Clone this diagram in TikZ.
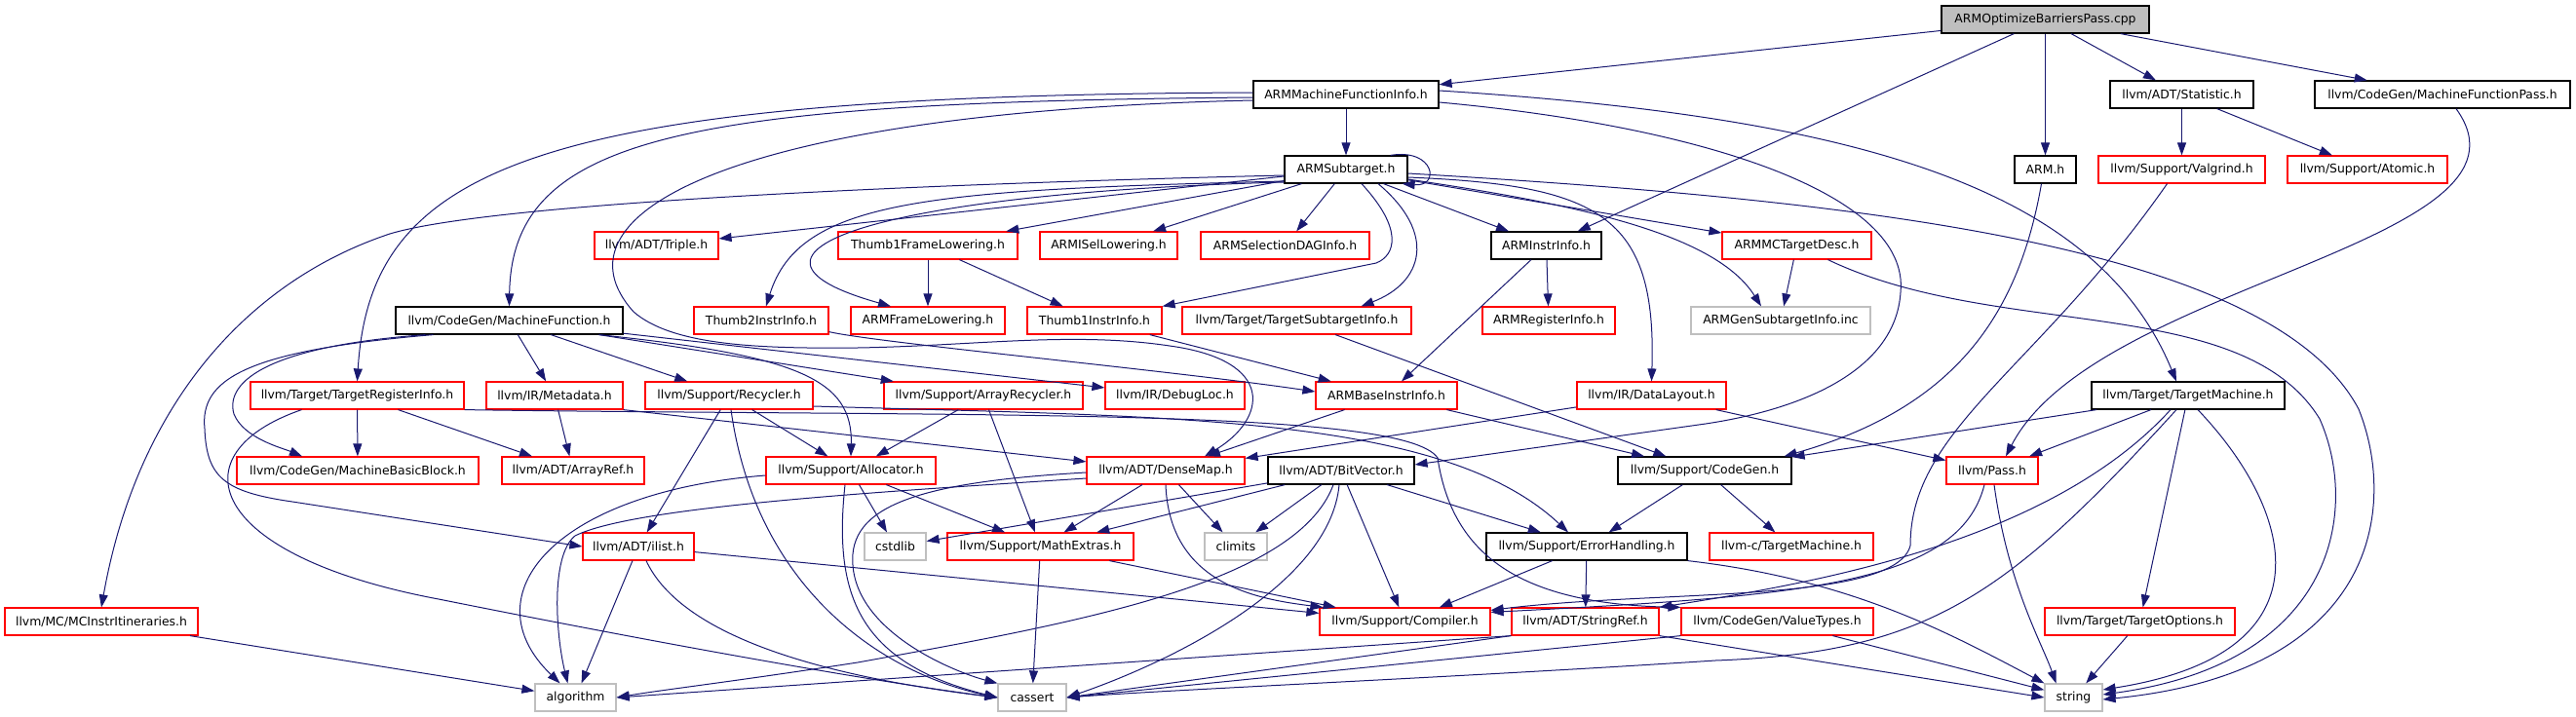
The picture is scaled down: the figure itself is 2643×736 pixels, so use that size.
\documentclass[tikz,border=0pt]{standalone}
\usepackage{fontspec}
\setmainfont{DejaVu Sans}
\usetikzlibrary{arrows.meta,calc}
\definecolor{edgeblue}{HTML}{191970}
\definecolor{lgrey}{HTML}{BFBFBF}
\begin{document}
\begin{tikzpicture}[x=1pt,y=-1pt,
  nb/.style={draw=black, line width=1.2pt, minimum height=28pt, inner sep=0pt, font=\fontsize{12.4}{14}\selectfont},
  rb/.style={nb, draw=red},
  gb/.style={nb, draw=lgrey},
  rootb/.style={nb, fill=lgrey},
  lnk/.style={draw=edgeblue, line width=1pt, -{Triangle[length=13pt,width=9pt]}}]
\useasboundingbox (0,0) rectangle (2643,736);
% row A
\node[rootb, minimum width=213pt] (root) at (2098.5,20) {ARMOptimizeBarriersPass.cpp};
% row B
\node[nb, minimum width=190pt] (mfi) at (1381,97) {ARMMachineFunctionInfo.h};
\node[nb, minimum width=147pt] (stat) at (2238.5,97) {llvm/ADT/Statistic.h};
\node[nb, minimum width=262pt] (mfp) at (2506,97) {llvm/CodeGen/MachineFunctionPass.h};
% row C
\node[nb, minimum width=126pt] (sub) at (1381,174) {ARMSubtarget.h};
\node[nb, minimum width=63pt] (armh) at (2098.5,174) {ARM.h};
\node[rb, minimum width=171pt] (valg) at (2238.5,174) {llvm/Support/Valgrind.h};
\node[rb, minimum width=164pt] (atom) at (2429,174) {llvm/Support/Atomic.h};
% row D
\node[rb, minimum width=127pt] (triple) at (673.5,252) {llvm/ADT/Triple.h};
\node[rb, minimum width=184pt] (t1fl) at (952,252) {Thumb1FrameLowering.h};
\node[rb, minimum width=141pt] (isel) at (1137.5,252) {ARMISelLowering.h};
\node[rb, minimum width=173pt] (dag) at (1318.5,252) {ARMSelectionDAGInfo.h};
\node[nb, minimum width=113pt] (ii) at (1586.5,252) {ARMInstrInfo.h};
\node[rb, minimum width=153pt] (mcd) at (1843.5,252) {ARMMCTargetDesc.h};
% row E
\node[nb, minimum width=233pt] (mf) at (522.5,329) {llvm/CodeGen/MachineFunction.h};
\node[rb, minimum width=138pt] (t2ii) at (781,329) {Thumb2InstrInfo.h};
\node[rb, minimum width=158pt] (fl) at (952,329) {ARMFrameLowering.h};
\node[rb, minimum width=138pt] (t1ii) at (1123,329) {Thumb1InstrInfo.h};
\node[rb, minimum width=235pt] (tsi) at (1330.5,329) {llvm/Target/TargetSubtargetInfo.h};
\node[rb, minimum width=136pt] (ri) at (1589,329) {ARMRegisterInfo.h};
\node[gb, minimum width=184pt] (gsi) at (1827,329) {ARMGenSubtargetInfo.inc};
% row F
\node[rb, minimum width=219pt] (tri) at (366.5,406) {llvm/Target/TargetRegisterInfo.h};
\node[rb, minimum width=140pt] (meta) at (569,406) {llvm/IR/Metadata.h};
\node[rb, minimum width=172pt] (recy) at (748,406) {llvm/Support/Recycler.h};
\node[rb, minimum width=204pt] (arec) at (1009,406) {llvm/Support/ArrayRecycler.h};
\node[rb, minimum width=143pt] (dloc) at (1205.5,406) {llvm/IR/DebugLoc.h};
\node[rb, minimum width=145pt] (bii) at (1422.5,406) {ARMBaseInstrInfo.h};
\node[rb, minimum width=153pt] (dl) at (1694.5,406) {llvm/IR/DataLayout.h};
\node[nb, minimum width=198pt] (tm) at (2245,406) {llvm/Target/TargetMachine.h};
% row G
\node[rb, minimum width=248pt] (mbb) at (367,483) {llvm/CodeGen/MachineBasicBlock.h};
\node[rb, minimum width=146pt] (aref) at (588,483) {llvm/ADT/ArrayRef.h};
\node[rb, minimum width=174pt] (alloc) at (873,483) {llvm/Support/Allocator.h};
\node[rb, minimum width=162pt] (dmap) at (1196,483) {llvm/ADT/DenseMap.h};
\node[nb, minimum width=150pt] (bv) at (1376,483) {llvm/ADT/BitVector.h};
\node[nb, minimum width=178pt] (cg) at (1749,483) {llvm/Support/CodeGen.h};
\node[rb, minimum width=94pt] (pass) at (2044,483) {llvm/Pass.h};
% row H
\node[rb, minimum width=114pt] (ilist) at (655,561) {llvm/ADT/ilist.h};
\node[gb, minimum width=63pt] (cstdlib) at (918.5,561) {cstdlib};
\node[rb, minimum width=191pt] (mex) at (1067.5,561) {llvm/Support/MathExtras.h};
\node[gb, minimum width=64pt] (climits) at (1268,561) {climits};
\node[nb, minimum width=206pt] (eh) at (1628,561) {llvm/Support/ErrorHandling.h};
\node[rb, minimum width=168pt] (ctm) at (1838,561) {llvm-c/TargetMachine.h};
% row I
\node[rb, minimum width=198pt] (mcii) at (104,638) {llvm/MC/MCInstrItineraries.h};
\node[rb, minimum width=175pt] (comp) at (1441.5,638) {llvm/Support/Compiler.h};
\node[rb, minimum width=151pt] (sref) at (1626.5,638) {llvm/ADT/StringRef.h};
\node[rb, minimum width=197pt] (vt) at (1823.5,638) {llvm/CodeGen/ValueTypes.h};
\node[rb, minimum width=195pt] (topt) at (2195.5,638) {llvm/Target/TargetOptions.h};
% row J
\node[gb, minimum width=83pt] (algo) at (590.5,716) {algorithm};
\node[gb, minimum width=70pt] (cassert) at (1059,716) {cassert};
\node[gb, minimum width=59pt] (string) at (2127.5,716) {string};

% ---- straight edges
\draw[lnk] (root) -- (mfi);
\draw[lnk] (root) -- (ii);
\draw[lnk] (root) -- (armh);
\draw[lnk] (root) -- (stat);
\draw[lnk] (root) -- (mfp);
\draw[lnk] (mfi) -- (sub);
\draw[lnk] (sub) -- (triple);
\draw[lnk] (sub) -- (t1fl);
\draw[lnk] (sub) -- (isel);
\draw[lnk] (sub) -- (dag);
\draw[lnk] (sub) -- (ii);
\draw[lnk] (sub) -- (mcd);
\draw[lnk] (stat) -- (valg);
\draw[lnk] (stat) -- (atom);
\draw[lnk] (ii) -- (bii);
\draw[lnk] (ii) -- (ri);
\draw[lnk] (mcd) -- (gsi);
\draw[lnk] (t1fl) -- (fl);
\draw[lnk] (t1fl) -- (t1ii);
\draw[lnk] (t1ii) -- (bii);
\draw[lnk] (tsi) -- (cg);
\draw[lnk] (mf) -- (meta);
\draw[lnk] (mf) -- (recy);
\draw[lnk] (mf) -- (arec);
\draw[lnk] (mf) -- (dloc);
\draw[lnk] (tri) -- (mbb);
\draw[lnk] (tri) -- (aref);
\draw[lnk] (meta) -- (aref);
\draw[lnk] (meta.south east) -- (dmap);
\draw[lnk] (recy) -- (ilist);
\draw[lnk] (recy) -- (alloc);
\draw[lnk] (arec) -- (alloc);
\draw[lnk] (arec) -- (mex);
\draw[lnk] (bii) -- (dmap);
\draw[lnk] (bii) -- (cg);
\draw[lnk] (dl) -- (dmap);
\draw[lnk] (dl) -- (pass);
\draw[lnk] (tm) -- (cg);
\draw[lnk] (tm) -- (pass);
\draw[lnk] (tm) -- (topt);
\draw[lnk] (alloc) -- (cstdlib);
\draw[lnk] (alloc) -- (mex);
\draw[lnk] (dmap) -- (mex);
\draw[lnk] (dmap) -- (climits);
\draw[lnk] (bv) -- (cstdlib);
\draw[lnk] (bv) -- (mex);
\draw[lnk] (bv) -- (climits);
\draw[lnk] (bv) -- (eh);
\draw[lnk] (bv) -- (comp);
\draw[lnk] (cg) -- (eh);
\draw[lnk] (cg) -- (ctm);
\draw[lnk] (ilist) -- (algo);
\draw[lnk] (ilist) -- (comp);
\draw[lnk] (mex) -- (comp);
\draw[lnk] (mex) -- (cassert);
\draw[lnk] (eh) -- (comp);
\draw[lnk] (eh) -- (sref);
\draw[lnk] (sref.south west) -- (algo.east);
\draw[lnk] (sref.south west) -- (cassert.east);
\draw[lnk] (sref.south east) -- (string.west);
\draw[lnk] (vt.south west) -- (cassert.east);
\draw[lnk] (vt) -- (string);
\draw[lnk] (topt) -- (string);
\draw[lnk] (mcii) -- (algo);

% ---- curved edges
% self loop
\draw[lnk] ($(sub.north east)+(-18,0)$) .. controls (1472,152) and (1478,192) .. ($(sub.south east)+(-6,0)$);
% ARMMachineFunctionInfo
\draw[lnk] ($(mfi.west)+(0,3)$) .. controls (700,105) and (525,140) .. (mf.north);
\draw[lnk] ($(mfi.west)+(0,-2)$) .. controls (550,98) and (380,170) .. (tri.north);
\draw[lnk] ($(mfi.west)+(0,6)$) .. controls (750,115) and (560,220) .. (650,320)
   .. controls (690,355) and (780,358) .. (880,357)
   .. controls (1000,355) and (1100,340) .. (1200,355)
   .. controls (1310,370) and (1300,430) .. ($(dmap.north)+(40,0)$);
\draw[lnk] ($(mfi.east)+(0,8)$) .. controls (1750,130) and (1960,200) .. (1950,300)
   .. controls (1945,380) and (1850,420) .. (1750,435) -- ($(bv.east)+(0,-6)$);
\draw[lnk] ($(mfi.east)+(0,-4)$) .. controls (1900,120) and (2150,190) .. ($(tm.north)+(-12,0)$);
% ARMSubtarget
\draw[lnk] ($(sub.south)+(33,0)$) .. controls (1475,240) and (1460,290) .. ($(tsi.north)+(66,0)$);
\draw[lnk] ($(sub.south)+(16,0)$) .. controls (1440,235) and (1432,262) .. (1412,270) -- (t1ii.north east);
\draw[lnk] ($(sub.west)+(0,12)$) .. controls (950,195) and (820,205) .. ($(t2ii.north)+(5,0)$);
\draw[lnk] ($(sub.west)+(0,13)$) .. controls (900,198) and (720,260) .. ($(fl.north)+(-38,0)$);
\draw[lnk] ($(sub.west)+(0,6)$) .. controls (900,190) and (500,210) .. (400,240)
   .. controls (250,290) and (140,420) .. (mcii.north);
\draw[lnk] ($(sub.east)+(0,8)$) .. controls (1640,190) and (1700,220) .. (dl.north);
\draw[lnk] ($(sub.east)+(0,10)$) .. controls (1620,210) and (1760,240) .. ($(gsi.north)+(-20,0)$);
\draw[lnk] ($(sub.east)+(0,4)$) .. controls (1900,205) and (2330,250) .. (2420,420)
   .. controls (2460,520) and (2440,690) .. ($(string.east)+(0,2)$);
% ARMMCTargetDesc -> string
\draw[lnk] ($(mcd.south)+(32,0)$) .. controls (2050,350) and (2300,300) .. (2380,430)
   .. controls (2420,520) and (2400,680) .. ($(string.east)+(0,-3)$);
% MachineFunctionPass -> Pass
\draw[lnk] ($(mfp.south)+(14,0)$) .. controls (2620,250) and (2150,290) .. ($(pass.north)+(14,0)$);
% ARM.h -> CodeGen
\draw[lnk] ($(armh.south)+(-4,0)$) .. controls (2070,330) and (2000,420) .. ($(cg.north east)+(-8,0)$);
% Valgrind -> Compiler
\draw[lnk] ($(valg.south)+(-15,0)$) .. controls (2090,380) and (1960,440) .. (1960,560)
   .. controls (1945,620) and (1700,605) .. ($(comp.north east)+(0,3)$);
% Pass
\draw[lnk] ($(pass.south)+(-8,0)$) .. controls (2010,600) and (1850,612) .. ($(comp.north east)+(0,5)$);
\draw[lnk] ($(pass.south)+(2,0)$) .. controls (2060,600) and (2095,660) .. ($(string.north)+(-18,0)$);
% TargetMachine
\draw[lnk] ($(tm.south)+(-18,0)$) .. controls (2100,560) and (1850,600) .. (sref.north east);
\draw[lnk] ($(tm.south)+(-12,0)$) .. controls (2060,610) and (1980,670) .. (1760,678)
   .. controls (1500,695) and (1200,708) .. (cassert.east);
\draw[lnk] ($(tm.south)+(10,0)$) .. controls (2350,520) and (2400,670) .. ($(string.east)+(0,-8)$);
% MachineFunction
\draw[lnk] ($(mf.south)+(-86,0)$) .. controls (280,355) and (230,390) .. (240,425)
   .. controls (250,450) and (290,460) .. ($(mbb.north)+(-57,0)$);
\draw[lnk] ($(mf.south)+(-78,0)$) .. controls (250,360) and (205,390) .. (210,440)
   .. controls (212,490) and (230,505) .. (300,515) -- (ilist.west);
\draw[lnk] ($(mf.south)+(92,0)$) .. controls (820,365) and (875,390) .. (alloc.north);
% Thumb2InstrInfo -> ARMBaseInstrInfo
\draw[lnk] ($(t2ii.south east)+(0,-3)$) .. controls (900,352) and (1200,380) .. ($(bii.west)+(0,-4)$);
% TargetRegisterInfo
\draw[lnk] (tri.south east) .. controls (1000,428) and (1440,418) .. (1475,470)
   .. controls (1490,570) and (1560,620) .. (vt.north west);
\draw[lnk] ($(tri.south)+(-57,0)$) .. controls (180,465) and (210,570) .. (450,615)
   .. controls (700,665) and (900,700) .. (cassert.west);
% Recycler
\draw[lnk] ($(recy.east)+(0,11)$) .. controls (1200,428) and (1480,425) .. ($(eh.north)+(-19,0)$);
\draw[lnk] ($(recy.south)+(2,0)$) .. controls (775,600) and (900,690) .. (cassert.west);
% ilist -> cassert
\draw[lnk] ($(ilist.south)+(8,0)$) .. controls (700,655) and (850,695) .. (cassert.west);
% Allocator
\draw[lnk] ($(alloc.west)+(0,5)$) .. controls (570,505) and (480,610) .. ($(algo.north)+(-16,0)$);
\draw[lnk] ($(alloc.south)+(-6,0)$) .. controls (855,610) and (880,680) .. (cassert.west);
% DenseMap
\draw[lnk] ($(dmap.west)+(0,8)$) .. controls (900,505) and (650,520) .. (590,550)
   .. controls (565,570) and (570,650) .. ($(algo.north)+(-8,0)$);
\draw[lnk] ($(dmap.west)+(0,2)$) .. controls (940,495) and (870,520) .. (875,580)
   .. controls (880,650) and (980,690) .. (cassert.north west);
\draw[lnk] (dmap.south) .. controls (1200,600) and (1290,615) .. ($(comp.north west)+(4,0)$);
% BitVector
\draw[lnk] ($(bv.south)+(-8,0)$) .. controls (1330,600) and (1100,640) .. (880,680)
   .. controls (750,700) and (680,708) .. (algo.east);
\draw[lnk] ($(bv.south)+(-2,0)$) .. controls (1365,600) and (1200,680) .. (cassert.east);
% ErrorHandling -> string
\draw[lnk] (eh.south east) .. controls (1900,595) and (2000,650) .. (string.north west);
\end{tikzpicture}
\end{document}
